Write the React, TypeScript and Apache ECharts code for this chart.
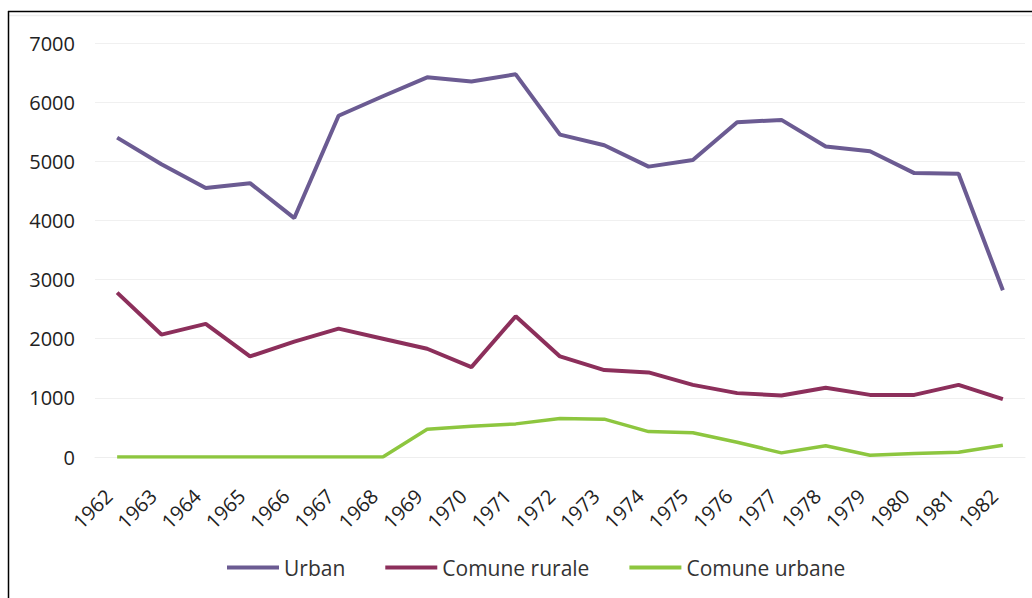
import React, { useEffect, useRef } from "react";
import * as echarts from "echarts";

const years = ["1962","1963","1964","1965","1966","1967","1968","1969","1970","1971","1972","1973","1974","1975","1976","1977","1978","1979","1980","1981","1982"];
const urban = [5400, 4950, 4550, 4630, 4040, 5770, 6100, 6420, 6350, 6470, 5450, 5270, 4910, 5020, 5660, 5700, 5250, 5170, 4800, 4790, 2820];
const comuneRurale = [2780, 2070, 2250, 1700, 1950, 2170, 2000, 1830, 1520, 2380, 1700, 1470, 1430, 1220, 1080, 1040, 1170, 1050, 1050, 1220, 980];
const comuneUrbane = [0, 0, 0, 0, 0, 0, 0, 470, 520, 560, 650, 640, 430, 410, 250, 70, 190, 30, 60, 80, 200];
const yTicks = { min: 0, max: 7000, interval: 1000 };

const FONT = "'Open Sans', Lato, sans-serif";

export default function App() {
  const ref = useRef<HTMLDivElement>(null);
  useEffect(() => {
    document.body.style.margin = "0";
    const chart = echarts.init(ref.current!, null, { renderer: "svg" });
    chart.setOption({
      animation: false,
      backgroundColor: "#ffffff",
      textStyle: { fontFamily: FONT },
      grid: { left: 95, right: 7, top: 43, bottom: 141 },
      legend: {
        bottom: 15,
        left: 222,
        itemWidth: 52,
        itemHeight: 4,
        itemGap: 40,
        icon: "rect",
        textStyle: { fontSize: 21, color: "#333333", fontFamily: FONT, padding: [0, 0, 0, 0] },
        data: ["Urban", "Comune rurale", "Comune urbane"],
      },
      xAxis: {
        type: "category",
        data: years,
        boundaryGap: true,
        axisLine: { show: true, lineStyle: { color: "#eeeeee" } },
        axisTick: { show: false },
        axisLabel: {
          rotate: 45,
          margin: 44,
          interval: 0,
          fontSize: 20,
          lineHeight: 24,
          verticalAlign: "bottom",
          color: "#222222",
          fontFamily: FONT,
        },
      },
      yAxis: {
        type: "value",
        min: yTicks.min,
        max: yTicks.max,
        interval: yTicks.interval,
        axisLine: { show: false },
        axisTick: { show: false },
        splitLine: { lineStyle: { color: "#f0f0f0", width: 1 } },
        axisLabel: { fontSize: 20, color: "#222222", margin: 20, fontFamily: FONT, formatter: (v: number) => String(v) },
      },
      graphic: [
        { type: "line", shape: { x1: 8, y1: 11.5, x2: 1032, y2: 11.5 }, style: { stroke: "#000000", lineWidth: 1.5 } },
        { type: "line", shape: { x1: 9, y1: 15.5, x2: 1032, y2: 15.5 }, style: { stroke: "#eeeeee", lineWidth: 1.5 } },
        { type: "line", shape: { x1: 8.5, y1: 11, x2: 8.5, y2: 598 }, style: { stroke: "#000000", lineWidth: 1.5 } },
      ],
      series: [
        { name: "Urban", type: "line", data: urban, symbol: "none", color: "#6b5b92", lineStyle: { width: 4, color: "#6b5b92" } },
        { name: "Comune rurale", type: "line", data: comuneRurale, symbol: "none", color: "#8c2f5b", lineStyle: { width: 4, color: "#8c2f5b" } },
        { name: "Comune urbane", type: "line", data: comuneUrbane, symbol: "none", color: "#8dc63f", lineStyle: { width: 3.5, color: "#8dc63f" } },
      ],
    });
    return () => chart.dispose();
  }, []);
  return <div ref={ref} style={{ width: 1032, height: 598 }} />;
}
